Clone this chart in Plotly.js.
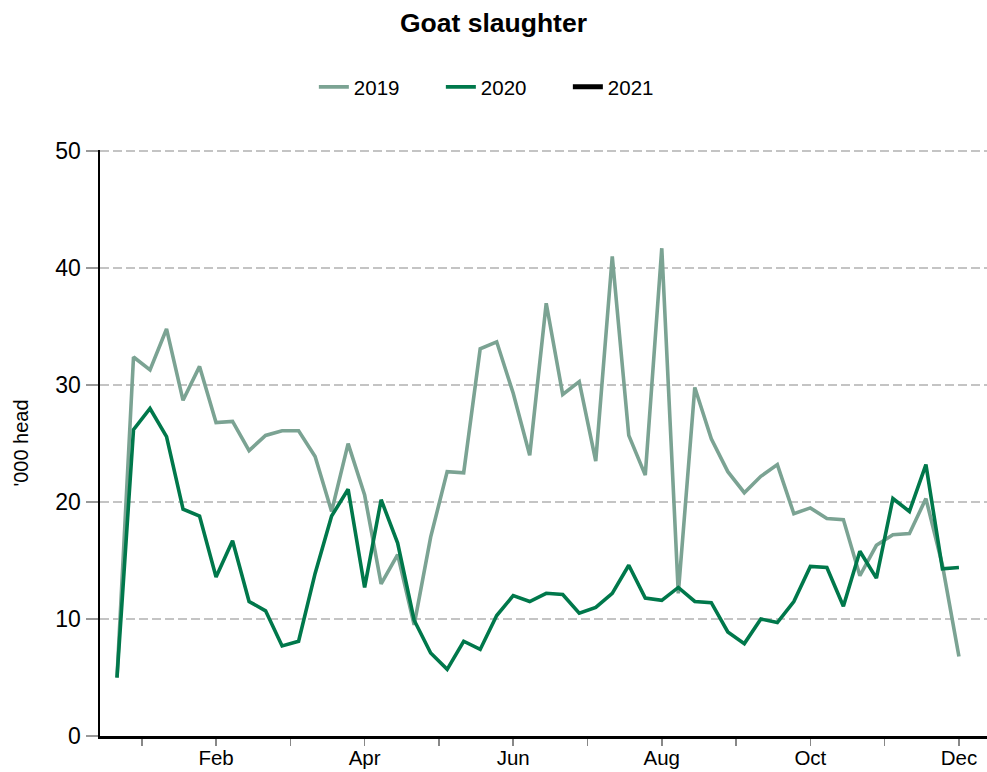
<!DOCTYPE html>
<html>
<head>
<meta charset="utf-8">
<script src="https://cdn.plot.ly/plotly-3.0.1.min.js"></script>
<style>
  html, body { margin: 0; padding: 0; background: #fff; }
  #chart { width: 987px; height: 772px; }
</style>
</head>
<body>
<div id="chart"></div>
<script>
// Week numbers (1..52)
const weeks = [1,2,3,4,5,6,7,8,9,10,11,12,13,14,15,16,17,18,19,20,21,22,23,24,25,26,
               27,28,29,30,31,32,33,34,35,36,37,38,39,40,41,42,43,44,45,46,47,48,49,50,51,52];

// '000 head
const goat2019 = [5.0,32.4,31.3,34.8,28.7,31.6,26.8,26.9,24.4,25.7,26.1,26.1,23.9,19.2,25.0,20.6,
                  13.0,15.5,9.5,17.0,22.6,22.5,33.1,33.7,29.3,24.0,37.0,29.2,30.3,23.5,41.0,25.7,
                  22.3,41.7,12.2,29.8,25.4,22.6,20.8,22.2,23.2,19.0,19.5,18.6,18.5,13.7,16.3,17.2,
                  17.3,20.3,14.6,6.8];
const goat2020 = [5.0,26.2,28.0,25.6,19.4,18.8,13.6,16.7,11.5,10.7,7.7,8.1,13.9,18.8,21.1,12.7,
                  20.2,16.5,9.9,7.1,5.7,8.1,7.4,10.3,12.0,11.5,12.2,12.1,10.5,11.0,12.2,14.6,
                  11.8,11.6,12.7,11.5,11.4,8.9,7.9,10.0,9.7,11.5,14.5,14.4,11.1,15.8,13.5,20.3,
                  19.2,23.2,14.3,14.4];
const goat2021 = [];

// Month ticks (week positions) and labels
const monthTickWeeks = [2.5,7,11.5,16,20.5,25,29.5,34,38.5,43,47.5,52];
const monthLabels = ['', 'Feb', '', 'Apr', '', 'Jun', '', 'Aug', '', 'Oct', '', 'Dec'];
const yTicks = [0,10,20,30,40,50];

const font = 'Liberation Sans, Arial, sans-serif';

const traces = [
  { x: weeks, y: goat2019, name: '2019', type: 'scatter', mode: 'lines',
    line: { color: '#7BA393', width: 3.6 } },
  { x: weeks, y: goat2020, name: '2020', type: 'scatter', mode: 'lines',
    line: { color: '#00784B', width: 3.6 } },
  { x: goat2021.length ? weeks.slice(0, goat2021.length) : [null], y: goat2021.length ? goat2021 : [null],
    name: '2021', type: 'scatter', mode: 'lines', showlegend: true,
    line: { color: '#000000', width: 5 } }
];

const layout = {
  width: 987, height: 772,
  margin: { l: 100, r: 0, t: 150, b: 36 },
  paper_bgcolor: '#ffffff', plot_bgcolor: '#ffffff',
  font: { family: font, color: '#000000' },
  title: { text: '<b>Goat slaughter</b>', font: { size: 26.5, family: font, color: '#000' },
           x: 0.5, xref: 'container', xanchor: 'center', y: 1 - 23/772, yref: 'container', yanchor: 'middle' },
  showlegend: true,
  legend: { orientation: 'h', x: 0.511, xref: 'container', xanchor: 'center',
            y: 1 - 87/772, yref: 'container', yanchor: 'middle',
            font: { size: 20.5, family: font }, entrywidth: 82, entrywidthmode: 'pixels',
            traceorder: 'normal' },
  xaxis: {
    range: [-0.03, 53.7], fixedrange: true,
    tickmode: 'array', tickvals: monthTickWeeks, ticktext: monthLabels,
    ticks: 'outside', ticklen: 7, tickwidth: 1.5, tickcolor: '#888',
    tickfont: { size: 20.5, family: font }, ticklabelstandoff: -5,
    showgrid: false, zeroline: false,
    showline: true, linecolor: '#000', linewidth: 2.5
  },
  yaxis: {
    range: [0, 50.1], fixedrange: true,
    tickmode: 'array', tickvals: yTicks,
    ticks: 'outside', ticklen: 12, tickwidth: 1.5, tickcolor: '#999',
    tickfont: { size: 23, family: font },
    showgrid: true, gridcolor: '#C4C4C4', gridwidth: 2.5, griddash: '9px,4px',
    zeroline: false,
    showline: true, linecolor: '#000', linewidth: 2.5,
    title: { text: "'000 head", font: { size: 20, family: font }, standoff: 22 }
  }
};

Plotly.newPlot('chart', traces, layout, { displayModeBar: false, staticPlot: true });
</script>
</body>
</html>
